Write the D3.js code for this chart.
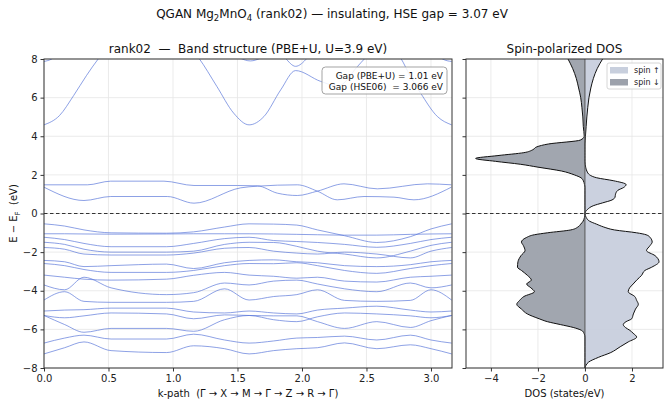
<!DOCTYPE html>
<html><head><meta charset="utf-8">
<script src="https://cdn.jsdelivr.net/npm/d3@7"></script>
<style>
html,body{margin:0;padding:0;background:#fff;}
svg{display:block;font-family:"DejaVu Sans",sans-serif;}
</style></head>
<body><svg id="c" width="664" height="405"></svg>
<script>
// ---------------- DATA ----------------
const xTicksBand = [0.0, 0.5, 1.0, 1.5, 2.0, 2.5, 3.0];
const yTicks = [8, 6, 4, 2, 0, -2, -4, -6, -8];
const xTicksDos = [-4, -2, 0, 2];

// valence bands + lowest conduction share a k grid
const kGrid = [0, 0.16, 0.31, 0.52, 0.95, 1.16, 1.4, 1.59, 1.78, 1.96, 2.12, 2.33, 2.58, 2.84, 3.0, 3.16];
const valenceBands = [
  [-0.535,-0.65,-0.85,-1.0,-1.02,-0.95,-0.7,-0.535,-0.55,-0.6,-0.85,-1.15,-1.5,-1.2,-0.8,-0.535],
  [-1.05,-1.05,-1.06,-1.07,-1.06,-1.05,-1.05,-1.05,-1.06,-1.08,-1.1,-1.12,-1.12,-1.08,-1.06,-1.05],
  [-1.23,-1.35,-1.55,-1.72,-1.72,-1.55,-1.3,-1.23,-1.4,-1.45,-1.5,-1.6,-1.75,-1.55,-1.35,-1.23],
  [-1.49,-1.6,-1.85,-2.0,-2.0,-1.95,-1.6,-1.49,-1.5,-1.7,-1.95,-2.1,-2.3,-1.95,-1.65,-1.49],
  [-1.76,-1.85,-2.1,-2.15,-2.15,-2.05,-1.8,-1.76,-1.95,-2.05,-2.1,-2.0,-2.1,-2.3,-1.95,-1.76],
  [-2.43,-2.5,-2.75,-2.7,-2.62,-2.85,-2.55,-2.43,-2.4,-2.5,-2.55,-2.7,-2.75,-2.65,-2.5,-2.43],
  [-2.59,-2.7,-2.9,-3.05,-3.05,-2.95,-2.7,-2.59,-2.6,-2.55,-2.7,-2.95,-3.1,-2.85,-2.7,-2.59],
  [-3.19,-3.3,-3.4,-3.45,-3.4,-3.2,-3.05,-3.19,-3.25,-3.35,-3.3,-3.5,-3.55,-3.3,-3.25,-3.19],
  [-3.70,-3.95,-3.30,-3.85,-4.2,-4.1,-3.6,-3.70,-3.5,-3.45,-3.65,-3.9,-4.05,-3.6,-3.85,-3.70],
  [-4.48,-4.05,-4.55,-4.6,-4.6,-4.55,-3.9,-4.48,-4.3,-4.2,-3.95,-4.5,-4.55,-4.5,-3.95,-4.48],
  [-5.05,-5.0,-4.98,-4.9,-4.9,-5.1,-5.15,-5.05,-5.15,-5.2,-5.0,-4.9,-4.8,-5.0,-5.1,-5.05],
  [-5.28,-5.4,-5.3,-5.15,-5.2,-5.45,-5.25,-5.28,-5.3,-5.3,-5.6,-5.95,-5.6,-5.9,-5.55,-5.28],
  [-5.28,-5.75,-6.15,-5.95,-5.95,-6.1,-5.5,-5.28,-5.5,-5.6,-5.35,-5.15,-5.2,-5.3,-5.4,-5.28],
  [-6.71,-6.45,-6.3,-6.5,-6.5,-6.25,-6.55,-6.71,-6.6,-6.45,-6.42,-6.35,-6.55,-6.3,-6.55,-6.71],
  [-7.27,-6.95,-6.65,-7.1,-7.2,-6.85,-7.0,-7.27,-7.1,-7.0,-6.95,-6.7,-7.0,-6.8,-7.0,-7.27]
];

// low conduction bands (own k nodes)
const cbLowA_k = [0, 0.336, 0.517, 0.93, 1.163, 1.499, 1.654, 1.809, 1.964, 2.119, 2.326, 2.584, 2.972, 3.158];
const cbLowA_e = [1.485, 1.485, 1.674, 1.674, 1.45, 1.45, 1.433, 1.053, 0.932, 1.157, 1.536, 1.277, 1.536, 1.485];
const cbLowB_k = [0, 0.31, 0.517, 0.956, 1.163, 1.525, 1.654, 1.964, 2.119, 2.274, 2.481, 2.713, 2.868, 3.158];
const cbLowB_e = [1.364, 0.673, 0.88, 0.88, 0.535, 1.329, 1.415, 1.485, 1.157, 0.708, 0.88, 0.846, 0.708, 1.364];

// high conduction bands
const cbHigh1_k = [0, 0.12, 0.23, 0.33, 0.42, 0.8, 1.2, 1.34, 1.47, 1.59, 1.705, 1.835, 1.95, 2.145, 2.28, 2.43, 2.49, 2.62, 2.765, 2.84, 2.92, 3.05, 3.16];
const cbHigh1_e = [4.59, 5.07, 6.11, 7.15, 8.0, 10.0, 8.05, 6.58, 5.2, 4.59, 5.02, 6.4, 7.4, 6.84, 6.6, 7.61, 8.05, 8.8, 8.05, 7.1, 6.23, 5.02, 4.59];
const cbHigh2a_k = [0, 0.06, 0.15];
const cbHigh2a_e = [7.87, 8.0, 8.5];
const cbHigh2b_k = [1.42, 1.52, 1.6, 1.68, 1.78];
const cbHigh2b_e = [8.5, 8.05, 7.9, 8.05, 8.5];
const cbHigh2c_k = [3.01, 3.09, 3.16];
const cbHigh2c_e = [8.5, 8.0, 7.87];
const cbHigh3_k = [1.8, 1.87, 1.95, 2.04, 2.1];
const cbHigh3_e = [8.6, 8.05, 7.62, 8.05, 8.6];

// DOS
const dosE = [8.0,7.5,7.0,6.5,6.0,5.5,5.0,4.5,4.0,3.8,3.6,3.45,3.3,3.15,3.0,2.85,2.7,2.55,2.4,2.2,2.0,1.85,1.7,1.5,1.35,1.2,1.0,0.85,0.7,0.55,0.4,0.2,0.0,
  -0.2,-0.4,-0.55,-0.7,-0.85,-1.0,-1.1,-1.25,-1.48,-1.66,-1.92,-2.18,-2.5,-2.78,-2.95,-3.2,-3.45,-3.65,-3.85,-4.05,-4.3,-4.5,-4.7,-4.95,-5.2,-5.45,-5.6,-5.75,-5.9,-6.05,-6.2,-6.4,-6.65,-6.9,-7.2,-7.45,-7.7,-8.0];
const dosUp = [0.75,0.52,0.36,0.25,0.17,0.12,0.08,0.05,0.02,0.01,0,0,0,0,0,0,0,0.01,0.03,0.08,0.2,0.5,1.2,1.75,1.65,1.4,1.3,1.28,1.15,0.75,0.35,0.1,0.0,
  0.05,0.2,0.49,0.8,1.25,2.2,2.6,2.78,2.86,2.77,2.62,2.98,3.15,2.84,2.55,2.41,2.2,2.05,1.9,1.84,2.12,2.2,2.27,2.15,2.06,1.99,1.75,1.63,1.72,1.91,2.05,2.2,1.84,1.5,1.1,0.57,0.15,0.0];
const dosDown = [-0.72,-0.52,-0.37,-0.27,-0.18,-0.13,-0.09,-0.07,-0.03,-0.2,-1.55,-2.05,-2.22,-2.6,-3.7,-4.65,-3.8,-2.75,-2.0,-1.0,-0.45,-0.17,-0.07,-0.02,0,0,0,0,0,0,0,0,0,
  -0.02,-0.08,-0.18,-0.3,-0.6,-1.6,-2.15,-2.5,-2.7,-2.62,-2.55,-2.72,-2.85,-2.87,-2.7,-2.45,-2.28,-2.48,-2.3,-2.15,-2.6,-2.78,-2.9,-2.7,-2.45,-1.95,-1.6,-1.05,-0.5,-0.15,-0.04,0,0,0,0,0,0,0];

const title = "QGAN Mg₂MnO₄ (rank02) — insulating, HSE gap = 3.07 eV";
const gapLines = ["Gap (PBE+U) = 1.01 eV", "Gap (HSE06)  = 3.066 eV"];

// ---------------- LAYOUT ----------------
const svg = d3.select("#c");
const L = {x0: 44, x1: 452, y0: 59, y1: 368};
const R = {x0: 466, x1: 663, y0: 59, y1: 368};
const xb = d3.scaleLinear().domain([0, 3.163]).range([L.x0, L.x1]);
const yb = d3.scaleLinear().domain([-8, 8]).range([L.y1, L.y0]);
const xd = d3.scaleLinear().domain([-5.06, 3.32]).range([R.x0, R.x1]);
const gridCol = "#e6e6e6", axisCol = "#333";
const bandCol = "#5673d8";
const upCol = "#c8cfdd", downCol = "#9ca1ab";

const defs = svg.append("defs");
defs.append("clipPath").attr("id","clipL").append("rect").attr("x",L.x0).attr("y",L.y0).attr("width",L.x1-L.x0).attr("height",L.y1-L.y0);
defs.append("clipPath").attr("id","clipR").append("rect").attr("x",R.x0).attr("y",R.y0).attr("width",R.x1-R.x0).attr("height",R.y1-R.y0);

// suptitle
const st = svg.append("text").attr("x",332).attr("y",18).attr("text-anchor","middle").attr("font-size",12).attr("fill","#111");
st.append("tspan").text("QGAN Mg");
st.append("tspan").attr("font-size",8.5).attr("dy",3).text("2");
st.append("tspan").attr("dy",-3).text("MnO");
st.append("tspan").attr("font-size",8.5).attr("dy",3).text("4");
st.append("tspan").attr("dy",-3).text(" (rank02) — insulating, HSE gap = 3.07 eV");

// panel titles
svg.append("text").attr("x",(L.x0+L.x1)/2).attr("y",53).attr("text-anchor","middle").attr("font-size",12).attr("fill","#111")
  .attr("xml:space","preserve").text("rank02  —  Band structure (PBE+U, U=3.9 eV)");
svg.append("text").attr("x",(R.x0+R.x1)/2).attr("y",53).attr("text-anchor","middle").attr("font-size",12).attr("fill","#111")
  .text("Spin-polarized DOS");

// ---------- LEFT PANEL ----------
const gL = svg.append("g");
gL.selectAll(".gx").data(xTicksBand).join("line").attr("x1",d=>xb(d)).attr("x2",d=>xb(d)).attr("y1",L.y0).attr("y2",L.y1).attr("stroke",gridCol).attr("stroke-width",0.8);
gL.selectAll(".gy").data(yTicks).join("line").attr("x1",L.x0).attr("x2",L.x1).attr("y1",d=>yb(d)).attr("y2",d=>yb(d)).attr("stroke",gridCol).attr("stroke-width",0.8);

const lineB = d3.line().x(d=>xb(d[0])).y(d=>yb(d[1])).curve(d3.curveMonotoneX);
const bandSets = [];
valenceBands.forEach(b => bandSets.push(kGrid.map((k,i)=>[k,b[i]])));
[[cbLowA_k,cbLowA_e],[cbLowB_k,cbLowB_e],[cbHigh1_k,cbHigh1_e],[cbHigh2a_k,cbHigh2a_e],[cbHigh2b_k,cbHigh2b_e],[cbHigh2c_k,cbHigh2c_e],[cbHigh3_k,cbHigh3_e]]
  .forEach(([ks,es]) => bandSets.push(ks.map((k,i)=>[k,es[i]])));
gL.append("g").attr("clip-path","url(#clipL)").selectAll("path").data(bandSets).join("path")
  .attr("d",lineB).attr("fill","none").attr("stroke",bandCol).attr("stroke-width",0.85).attr("stroke-opacity",0.8);

gL.append("line").attr("x1",L.x0).attr("x2",L.x1).attr("y1",yb(0)).attr("y2",yb(0)).attr("stroke","#333").attr("stroke-width",1).attr("stroke-dasharray","3.5,2.5");

// axes
const axL = gL.append("g").attr("transform",`translate(${L.x0},0)`).call(d3.axisLeft(yb).tickValues(yTicks).tickSize(3.5).tickPadding(3).tickFormat(d=>d3.format("d")(d).replace("-","−")));
const axB = gL.append("g").attr("transform",`translate(0,${L.y1})`).call(d3.axisBottom(xb).tickValues(xTicksBand).tickSize(3.5).tickPadding(3).tickFormat(d3.format(".1f")));
[axL,axB].forEach(a=>{a.select(".domain").remove(); a.selectAll("line").attr("stroke",axisCol); a.selectAll("text").attr("font-size",10).attr("fill","#222").attr("font-family","DejaVu Sans");});
gL.append("rect").attr("x",L.x0).attr("y",L.y0).attr("width",L.x1-L.x0).attr("height",L.y1-L.y0).attr("fill","none").attr("stroke",axisCol).attr("stroke-width",1);

// gap box
const gb = gL.append("g");
gb.append("rect").attr("x",322).attr("y",67).attr("width",125).attr("height",27).attr("rx",3.5).attr("fill","#fff").attr("fill-opacity",0.85).attr("stroke","#999").attr("stroke-width",0.9);
gb.selectAll("text").data(gapLines).join("text").attr("x",443).attr("y",(d,i)=>79+i*10.6).attr("text-anchor","end").attr("font-size",9).attr("fill","#111").attr("xml:space","preserve").text(d=>d);

// axis labels
svg.append("text").attr("x",(L.x0+L.x1)/2).attr("y",397).attr("text-anchor","middle").attr("font-size",10).attr("fill","#111")
  .attr("xml:space","preserve").text("k-path  (Γ → X → M → Γ → Z → R → Γ)");
const yl = svg.append("text").attr("transform",`translate(17,${(L.y0+L.y1)/2}) rotate(-90)`).attr("text-anchor","middle").attr("font-size",10).attr("fill","#111");
yl.append("tspan").text("E − E");
yl.append("tspan").attr("font-size",7).attr("dy",2.5).text("F");
yl.append("tspan").attr("dy",-2.5).text("  (eV)").attr("xml:space","preserve");

// ---------- RIGHT PANEL ----------
const gR = svg.append("g");
gR.selectAll(".gx").data(xTicksDos).join("line").attr("x1",d=>xd(d)).attr("x2",d=>xd(d)).attr("y1",R.y0).attr("y2",R.y1).attr("stroke",gridCol).attr("stroke-width",0.8);
gR.selectAll(".gy").data(yTicks).join("line").attr("x1",R.x0).attr("x2",R.x1).attr("y1",d=>yb(d)).attr("y2",d=>yb(d)).attr("stroke",gridCol).attr("stroke-width",0.8);

const dosUpPts = dosE.map((e,i)=>[e,dosUp[i]]);
const dosDnPts = dosE.map((e,i)=>[e,dosDown[i]]);
const areaD = d3.area().y(d=>yb(d[0])).x0(xd(0)).x1(d=>xd(d[1])).curve(d3.curveMonotoneY);
const lineD = d3.line().y(d=>yb(d[0])).x(d=>xd(d[1])).curve(d3.curveMonotoneY);
const gc = gR.append("g").attr("clip-path","url(#clipR)");
gc.append("path").datum(dosUpPts).attr("d",areaD).attr("fill",upCol).attr("fill-opacity",0.95);
gc.append("path").datum(dosDnPts).attr("d",areaD).attr("fill",downCol).attr("fill-opacity",0.95);
gc.append("path").datum(dosUpPts).attr("d",lineD).attr("fill","none").attr("stroke","#111").attr("stroke-width",1);
gc.append("path").datum(dosDnPts).attr("d",lineD).attr("fill","none").attr("stroke","#111").attr("stroke-width",1);
gc.append("line").attr("x1",xd(0)).attr("x2",xd(0)).attr("y1",R.y0).attr("y2",R.y1).attr("stroke","#555").attr("stroke-width",1);
gR.append("line").attr("x1",R.x0).attr("x2",R.x1).attr("y1",yb(0)).attr("y2",yb(0)).attr("stroke","#333").attr("stroke-width",1).attr("stroke-dasharray","3.5,2.5");

const axRL = gR.append("g").attr("transform",`translate(${R.x0},0)`).call(d3.axisLeft(yb).tickValues(yTicks).tickSize(3.5).tickFormat(""));
const axRB = gR.append("g").attr("transform",`translate(0,${R.y1})`).call(d3.axisBottom(xd).tickValues(xTicksDos).tickSize(3.5).tickPadding(3).tickFormat(d=>d3.format("d")(d).replace("-","−")));
[axRL,axRB].forEach(a=>{a.select(".domain").remove(); a.selectAll("line").attr("stroke",axisCol); a.selectAll("text").attr("font-size",10).attr("fill","#222").attr("font-family","DejaVu Sans");});
gR.append("rect").attr("x",R.x0).attr("y",R.y0).attr("width",R.x1-R.x0).attr("height",R.y1-R.y0).attr("fill","none").attr("stroke",axisCol).attr("stroke-width",1);

svg.append("text").attr("x",(R.x0+R.x1)/2).attr("y",397).attr("text-anchor","middle").attr("font-size",10).attr("fill","#111").text("DOS (states/eV)");

// legend
const lg = gR.append("g");
lg.append("rect").attr("x",607).attr("y",63).attr("width",54).attr("height",26).attr("rx",2).attr("fill","#fff").attr("fill-opacity",0.85).attr("stroke","#ccc").attr("stroke-width",0.8);
const legItems = [{label:"spin ↑", col:upCol},{label:"spin ↓", col:downCol}];
lg.selectAll(".p").data(legItems).join("rect").attr("x",610).attr("y",(d,i)=>67+i*12).attr("width",18).attr("height",6.5).attr("fill",d=>d.col);
lg.selectAll(".t").data(legItems).join("text").attr("x",634).attr("y",(d,i)=>73+i*12).attr("font-size",8).attr("fill","#222").text(d=>d.label);
</script></body></html>
